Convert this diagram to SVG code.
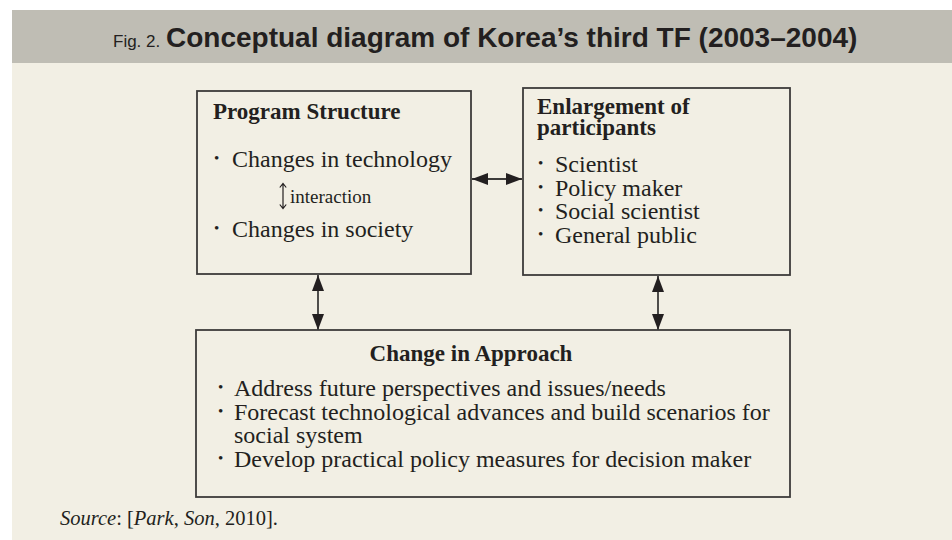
<svg xmlns="http://www.w3.org/2000/svg" width="952" height="540" viewBox="0 0 952 540">
  <defs>
    <style>
      .box { fill: none; stroke: #3d3b3a; stroke-width: 1.8; }
      .head { font-family: "Liberation Serif", "Times New Roman", serif; font-weight: bold; font-size: 23px; fill: #231f20; }
      .body { font-family: "Liberation Serif", "Times New Roman", serif; font-size: 24px; fill: #231f20; }
      .bul { font-family: "Liberation Serif", "Times New Roman", serif; font-size: 15px; fill: #231f20; }
      .small { font-family: "Liberation Serif", "Times New Roman", serif; font-size: 19px; fill: #231f20; }
      .link { stroke: #3d3b3a; stroke-width: 1.8; fill: none; }
      .src { font-family: "Liberation Serif", "Times New Roman", serif; font-size: 20.5px; fill: #231f20; }
    </style>
    <marker id="ah" viewBox="0 0 16 12" refX="16" refY="6" markerWidth="16" markerHeight="12" markerUnits="userSpaceOnUse" orient="auto-start-reverse">
      <path d="M0,0 L16,6 L0,12 Z" fill="#231f20"/>
    </marker>
  </defs>

  <!-- page background and title band -->
  <rect x="0" y="0" width="952" height="540" fill="#ffffff"/>
  <rect x="12" y="10" width="940" height="53" fill="#bfbdb4"/>
  <rect x="12" y="63" width="940" height="477" fill="#f2efe4"/>

  <g id="title">
    <text x="113" y="47" font-family="'Liberation Sans', Arial, sans-serif" font-size="17" fill="#231f20">Fig. 2.</text>
    <text x="166" y="47" font-family="'Liberation Sans', Arial, sans-serif" font-weight="bold" font-size="28" fill="#231f20">Conceptual diagram of Korea’s third TF (2003–2004)</text>
  </g>

  <!-- connectors -->
  <g id="connectors">
    <line class="link" x1="472" y1="179" x2="522" y2="179" marker-start="url(#ah)" marker-end="url(#ah)"/>
    <line class="link" x1="318" y1="275" x2="318" y2="330" marker-start="url(#ah)" marker-end="url(#ah)"/>
    <line class="link" x1="658" y1="276" x2="658" y2="330" marker-start="url(#ah)" marker-end="url(#ah)"/>
  </g>

  <g id="program-structure">
    <rect class="box" x="197" y="91" width="274" height="183"/>
    <text class="head" x="213" y="119">Program Structure</text>
    <text class="bul" x="214" y="163">•</text>
    <text class="body" x="232" y="167">Changes in technology</text>
    <path d="M283 184 V208 M279.8 187.5 L283 183.5 L286.2 187.5 M279.8 204.5 L283 208.5 L286.2 204.5" stroke="#231f20" stroke-width="1.2" fill="none"/>
    <text class="small" x="290" y="203">interaction</text>
    <text class="bul" x="214" y="233">•</text>
    <text class="body" x="232" y="237">Changes in society</text>
  </g>

  <g id="participants">
    <rect class="box" x="523" y="88" width="267" height="187"/>
    <text class="head" x="537" y="114">Enlargement of</text>
    <text class="head" x="537" y="135">participants</text>
    <text class="bul" x="538" y="168">•</text>
    <text class="body" x="555" y="172">Scientist</text>
    <text class="bul" x="538" y="192">•</text>
    <text class="body" x="555" y="196">Policy maker</text>
    <text class="bul" x="538" y="215">•</text>
    <text class="body" x="555" y="219">Social scientist</text>
    <text class="bul" x="538" y="239">•</text>
    <text class="body" x="555" y="243">General public</text>
  </g>

  <g id="approach">
    <rect class="box" x="196" y="330" width="594" height="167"/>
    <text class="head" x="471" y="361" text-anchor="middle">Change in Approach</text>
    <text class="bul" x="218" y="392">•</text>
    <text class="body" x="234" y="396">Address future perspectives and issues/needs</text>
    <text class="bul" x="218" y="416">•</text>
    <text class="body" x="234" y="420">Forecast technological advances and build scenarios for</text>
    <text class="body" x="234" y="443">social system</text>
    <text class="bul" x="218" y="463">•</text>
    <text class="body" x="234" y="467">Develop practical policy measures for decision maker</text>
  </g>

  <g id="source">
    <text class="src" x="60" y="525"><tspan font-style="italic">Source</tspan>: [<tspan font-style="italic">Park</tspan>, <tspan font-style="italic">Son</tspan>, 2010].</text>
  </g>
</svg>
